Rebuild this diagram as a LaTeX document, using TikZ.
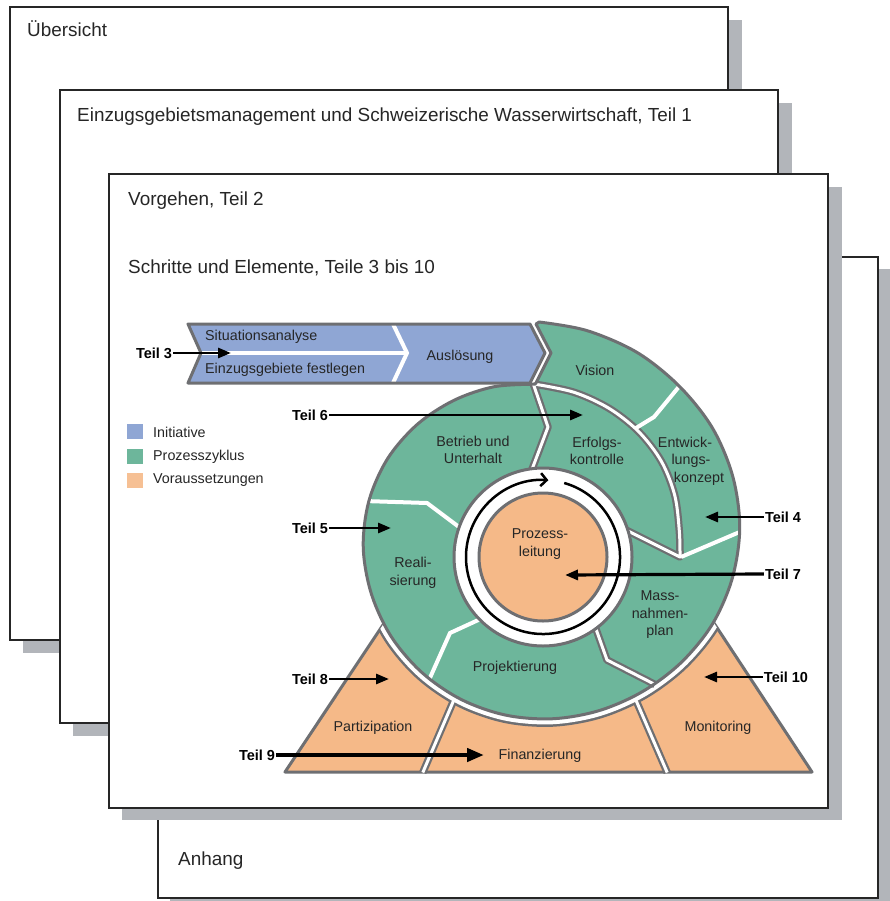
\documentclass[tikz,border=0pt]{standalone}
\usepackage{fontspec}
\setmainfont{Liberation Sans}
\usetikzlibrary{arrows.meta,calc}
\definecolor{bandblue}{HTML}{8FA6D4}
\definecolor{cycgreen}{HTML}{6DB69B}
\definecolor{preorange}{HTML}{F5B988}
\definecolor{edgegrey}{HTML}{6E6F72}
\definecolor{shadowgrey}{HTML}{B2B5BA}
\definecolor{txt}{HTML}{262626}
\newcommand{\spiralouter}{(-7,-214) -- plot[smooth,tension=0.55] coordinates {(-91:216) (-78:212) (-63:208) (-48:204) (-33:202) (-18:199.5) (-3:197) (12:193.5) (27:190) (42:186) (57:183) (72:181.5) (87:181) (102:181) (117:181) (132:181) (147:181) (162:180.5) (177:180) (192:178) (207:174.5) (222:169.5) (237:164) (252:159) (267:154)} -- (-7,-155) -- (8,-185) -- cycle}
\newcommand{\erfcurve}{plot[smooth,tension=0.55] coordinates {(535,384.2) (574,392.3) (609.1,408.4) (638.7,431.7) (661.3,461.2) (674.7,495.2) (679.3,530.9) (680,557)}}
\begin{document}
\begin{tikzpicture}[x=1pt,y=-1pt,
  card/.style={draw=black!85,line width=1.2pt,fill=white},
  shadowbox/.style={fill=shadowgrey},
  heading/.style={font=\fontsize{18.9}{22}\selectfont,anchor=base west,inner sep=0pt,text=txt},
  lbl/.style={font=\fontsize{14.3}{17.5}\selectfont,text=txt,align=center,inner sep=0pt},
  lbll/.style={lbl,anchor=west},
  teil/.style={font=\bfseries\fontsize{14.5}{16}\selectfont,text=black,inner sep=1pt},
  teilarrow/.style={line width=2.8pt,-{Triangle[length=13pt,width=10pt]}},
  sepA/.style={white,line width=4pt},
  sepBg/.style={draw=edgegrey,line width=7.5pt,line join=round},
  sepBw/.style={draw=white,line width=3pt,line join=round},
  outl/.style={draw=edgegrey,line width=3pt,line join=round},
  legbox/.style={minimum width=16pt,minimum height=15pt,inner sep=0pt}
]
\useasboundingbox (0,0) rectangle (890,901);
% ---------- cards ----------
\fill[shadowbox] (170,269) rectangle (892,912);
\draw[card] (158,257) rectangle (878,898);
\fill[shadowbox] (23,20) rectangle (742,653);
\draw[card] (10,7) rectangle (728,640);
\fill[shadowbox] (73,103) rectangle (792,736);
\draw[card] (60,90) rectangle (778,723);
\fill[shadowbox] (122,187) rectangle (842,820);
\draw[card] (109,174) rectangle (828,808);
\node[heading] (h1) at (27,37) {Übersicht};
\node[heading] (h2) at (77,121.6) {Einzugsgebietsmanagement und Schweizerische Wasserwirtschaft, Teil 1};
\node[heading] (h3) at (128,205.6) {Vorgehen, Teil 2};
\node[heading] (h4) at (128,273.4) {Schritte und Elemente, Teile 3 bis 10};
\node[heading] (h5) at (178,865.6) {Anhang};
% ---------- orange base (Voraussetzungen) ----------
\begin{scope}
  \clip (0,600) rectangle (890,901);
  \filldraw[fill=preorange,outl] (285,772) -- (812,772) -- (550,374) -- cycle;
  \draw[sepBg] (422.8,772.5) -- (453,702) -- (470,662);
  \draw[sepBg] (667.2,772.5) -- (635,698) -- (620,663);
  \begin{scope}
    \clip (285,772) -- (812,772) -- (550,374) -- cycle;
    \begin{scope}[shift={(543,538)}]
      \draw[edgegrey,line width=16pt] \spiralouter;
    \end{scope}
  \end{scope}
  \draw[sepBw] (422.8,772.5) -- (453,702) -- (470,662);
  \draw[sepBw] (667.2,772.5) -- (635,698) -- (620,663);
  \begin{scope}
    \clip (285,772) -- (812,772) -- (550,374) -- cycle;
    \begin{scope}[shift={(543,538)}]
      \draw[white,line width=11pt] \spiralouter;
    \end{scope}
  \end{scope}
\end{scope}
% ---------- green spiral (Prozesszyklus) ----------
\begin{scope}[shift={(543,538)}]
  \fill[cycgreen] \spiralouter;
\end{scope}
% grey-white separators
\draw[sepBg] (533,383) -- (548,427) -- (531,472);
\draw[sepBg] \erfcurve -- (624,529);
\draw[sepBg] (591,615) -- (607,660) -- (655,684.5);
\draw[sepBw] (533,383) -- (548,427) -- (531,472);
\draw[sepBw] \erfcurve -- (624,529);
\draw[sepBw] (591,615) -- (607,660) -- (655,684.5);
% white separators
\draw[sepA] (636,428) -- (654,417) -- (682,383);
\draw[sepA] (681,557) -- (742,531);
\draw[sepA] (364,501) -- (427,503) -- (467,533);
\draw[sepA] (429,680) -- (450,633) -- (487,616);
\begin{scope}[shift={(543,538)}]
  \draw[outl] \spiralouter;
\end{scope}
% ---------- centre ----------
\coordinate (pc) at (543,557);
\filldraw[fill=white,outl] (pc) circle[radius=89];
\filldraw[fill=preorange,outl] (pc) circle[radius=64];
\draw[line width=2.5pt,-{Straight Barb[length=6pt,width=13pt]}] ($(pc)+(-74:77)$) arc[start angle=-74,end angle=274,radius=77];
% ---------- band (Initiative) ----------
\fill[bandblue] (188,324) -- (530,324) -- (545,353) -- (530,383) -- (188,383) -- (201,353) -- cycle;
\draw[sepA] (201,353) -- (406,353);
\draw[sepA] (393,324) -- (407,353) -- (393,383);
\draw[outl] (188,324) -- (530,324) -- (545,353) -- (530,383) -- (188,383) -- (201,353) -- cycle;
% ---------- labels ----------
\node[lbll] (sit) at (205,337) {Situationsanalyse};
\node[lbll] (ezg) at (205,370) {Einzugsgebiete festlegen};
\node[lbl] (aus) at (460,357) {Auslösung};
\node[lbl] (vis) at (595,370) {Vision};
\node[lbl] (ent) at (691,461) {\hspace*{-12pt}Entwick-\\lungs-\\\hspace*{16pt}konzept};
\node[lbl] (erf) at (597,451) {Erfolgs-\\kontrolle};
\node[lbl] (bet) at (473,450) {Betrieb und\\Unterhalt};
\node[lbl] (rea) at (413,573) {Reali-\\sierung};
\node[lbl] (pro) at (540,544) {Prozess-\\leitung};
\node[lbl] (mas) at (660,615) {Mass-\\nahmen-\\plan};
\node[lbl] (prj) at (515,668) {Projektierung};
\node[lbl] (par) at (373,728) {Partizipation};
\node[lbl] (fin) at (540,756) {Finanzierung};
\node[lbl] (mon) at (718,728) {Monitoring};
% ---------- legend ----------
\node[legbox,fill=bandblue] (lg1) at (135,431) {};
\node[legbox,fill=cycgreen] (lg2) at (135,456) {};
\node[legbox,fill=preorange!90!white] (lg3) at (135,480) {};
\node[lbll] (lt1) at (153,432) {Initiative};
\node[lbll] (lt2) at (153,457) {Prozesszyklus};
\node[lbll] (lt3) at (153,480) {Voraussetzungen};
% ---------- Teil arrows ----------
\node[teil] (t3) at (154,353) {Teil 3};
\node[teil] (t6) at (310,415) {Teil 6};
\node[teil] (t5) at (310,528) {Teil 5};
\node[teil] (t8) at (310,679) {Teil 8};
\node[teil] (t9) at (257,755) {Teil 9};
\node[teil] (t4) at (783,517) {Teil 4};
\node[teil] (t7) at (783,574) {Teil 7};
\node[teil] (t10) at (786,677) {Teil 10};
\coordinate (e3) at (231,353);
\coordinate (e6) at (583,415);
\coordinate (e5) at (391,528);
\coordinate (e8) at (389,679);
\coordinate (e9) at (484,755);
\coordinate (e4) at (705,517);
\coordinate (e7) at (565,575);
\coordinate (e10) at (704,677);
\draw[teilarrow] (t3.east) -- (e3);
\draw[teilarrow] (t6.east) -- (e6);
\draw[teilarrow] (t5.east) -- (e5);
\draw[teilarrow] (t8.east) -- (e8);
\draw[teilarrow,line width=4.5pt,-{Triangle[length=17pt,width=13pt]}] (t9.east) -- (e9);
\draw[teilarrow] (t4.west) -- (e4);
\draw[teilarrow,line width=3.2pt] (t7.west) -- (e7);
\draw[teilarrow] (t10.west) -- (e10);
\end{tikzpicture}
\end{document}
